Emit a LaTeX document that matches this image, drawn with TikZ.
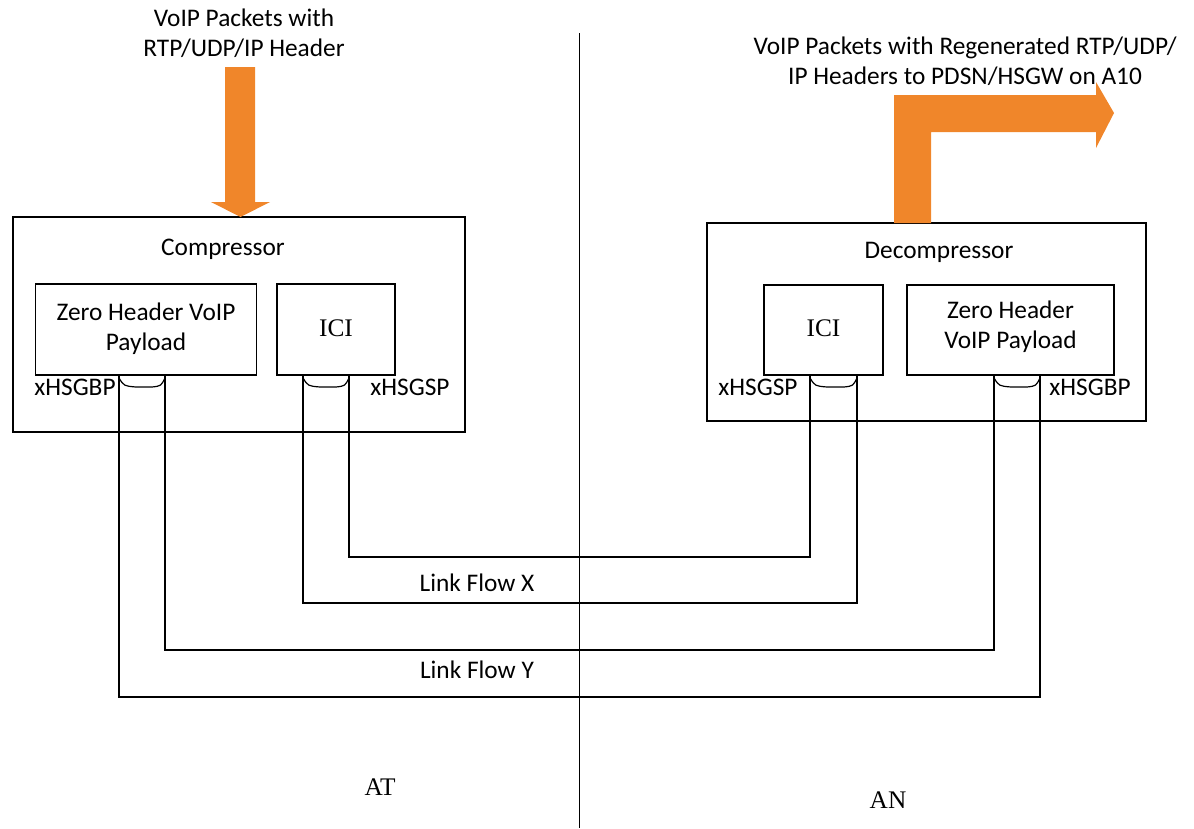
\documentclass[tikz,border=0pt]{standalone}
\usepackage{fontspec}
\newfontfamily\calibri{Carlito}
\newfontfamily\cambria{Liberation Serif}
\usetikzlibrary{calc,positioning}
\definecolor{laranja}{RGB}{240,134,42}
\newcommand{\px}{0.75pt}
\tikzset{
caixa/.style = {draw=black, line width=1pt, inner sep=0pt},
rotulo/.style = {font=\calibri\fontsize{19}{22.5}\selectfont, align=center, inner sep=0pt},
serifa/.style = {font=\cambria\fontsize{19}{22}\selectfont, inner sep=0pt},
enlace/.style = {draw=black, line width=1pt}
}
\newcommand{\porta}[2]{% copo da porta
  \draw[line width=0.9pt] ($(#1)+(0,3)$) .. controls ($(#1)+(5,11)$) .. ($(#1)+(17,12)$)
     -- ($(#2)+(-13,12)$) .. controls ($(#2)+(-4,11)$) .. ($(#2)+(0,3)$);}

\begin{document}
\begin{tikzpicture}[x=0.75pt,y=-0.75pt]
    \useasboundingbox (0,0) rectangle (1194,828);

    % DIVISAO AT / AN
    \draw[line width=0.7pt] (579,33) coordinate (divA) -- (579,828) coordinate (divB);
    \node[serifa] (at) at (380,787) {AT};
    \node[serifa] (an) at (888,800) {AN};

    % COMPRESSOR
    \node[caixa, minimum width=452*\px, minimum height=215*\px] (comp) at (239,324.5) {};
    \node[rotulo] (compTxt) at (223,249) {Compressor};
    \node[caixa, minimum width=221*\px, minimum height=91*\px] (zeroA) at (146,329.5) {};
    \node[rotulo] (zeroAtxt) at (146,329) {Zero Header VoIP\\Payload};
    \node[caixa, minimum width=118*\px, minimum height=91*\px] (iciA) at (336,329.5) {};
    \node[serifa] (iciAtxt) at (336,328) {ICI};
    \node[rotulo] (gbpA) at (75,387) {xHSGBP};
    \node[rotulo] (gspA) at (410,387) {xHSGSP};

    % DESCOMPRESSOR
    \node[caixa, minimum width=439*\px, minimum height=198*\px] (decomp) at (926.5,322) {};
    \node[rotulo] (decompTxt) at (939,252) {Decompressor};
    \node[caixa, minimum width=119*\px, minimum height=90*\px] (iciB) at (823.5,330) {};
    \node[serifa] (iciBtxt) at (823.5,328) {ICI};
    \node[caixa, minimum width=207*\px, minimum height=90*\px] (zeroB) at (1010.5,330) {};
    \node[rotulo] (zeroBtxt) at (1010.5,327) {Zero Header\\VoIP Payload};
    \node[rotulo] (gspB) at (758,387) {xHSGSP};
    \node[rotulo] (gbpB) at (1090,387) {xHSGBP};

    % PORTAS
    \coordinate (pA1) at (119,375);
    \coordinate (pA2) at (165,375);
    \coordinate (pA3) at (303,375);
    \coordinate (pA4) at (349,375);
    \coordinate (pB1) at (810,375);
    \coordinate (pB2) at (857,375);
    \coordinate (pB3) at (994,375);
    \coordinate (pB4) at (1040,375);
    \porta{pA1}{pA2}
    \porta{pA3}{pA4}
    \porta{pB1}{pB2}
    \porta{pB3}{pB4}

    % LINK FLOWS
    \draw[enlace] (pA4) -- ++(0,182) -| (pB1);
    \draw[enlace] (pA3) -- ++(0,228) -| (pB2);
    \draw[enlace] (pA2) -- ++(0,275) -| (pB3);
    \draw[enlace] (pA1) -- ++(0,322) -| (pB4);
    \node[rotulo] (flowX) at (477,583) {Link Flow X};
    \node[rotulo] (flowY) at (477,670) {Link Flow Y};

    % SETAS LARANJA
    \fill[laranja] (225,67) -- (255,67) -- (255,202) -- (270,202) -- (240.5,217)
      -- (211,202) -- (225,202) -- cycle;
    \node[rotulo] (entrada) at (244,33) {VoIP Packets with\\RTP/UDP/IP Header};

    \fill[laranja] (894,223) -- (894,95) -- (1096,95) -- (1096,82) -- (1114,113)
      -- (1096,148) -- (1096,132) -- (931,132) -- (931,223) -- cycle;
    \node[rotulo] (saida) at (965,61) {VoIP Packets with Regenerated RTP/UDP/\\IP Headers to PDSN/HSGW on A10};
\end{tikzpicture}
\end{document}
